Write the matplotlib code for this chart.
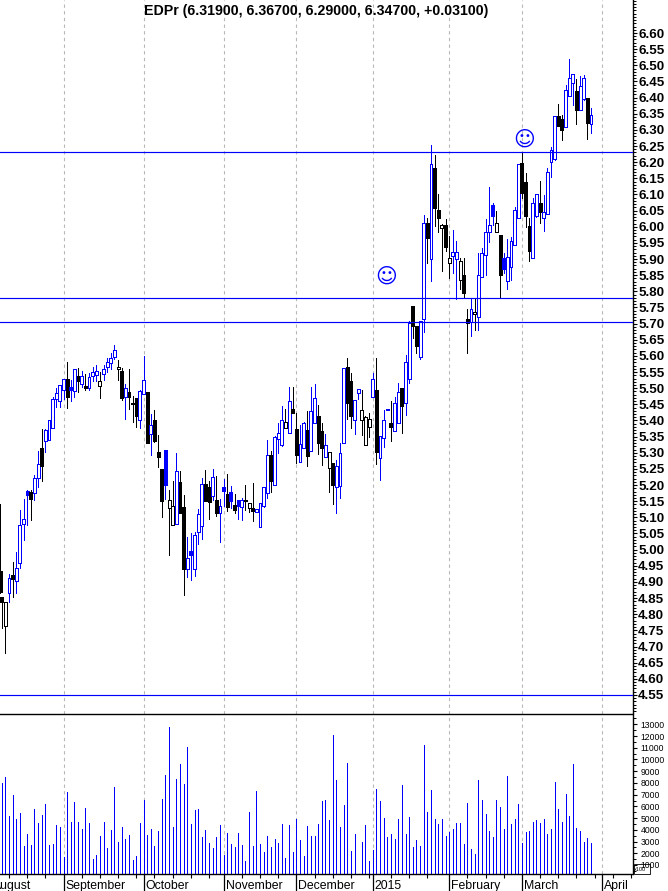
import numpy as np
import matplotlib
matplotlib.use('Agg')
import matplotlib.pyplot as plt
from matplotlib.patches import Rectangle
from matplotlib.ticker import MultipleLocator

plt.rcParams['font.family'] = ['Liberation Sans', 'DejaVu Sans']

# daily bars, first one is cut by the left edge
opens = [4.934, 4.852, 4.762, 4.867, 4.921, 4.904, 4.958, 5.080, 5.181, 5.178,
         5.174, 5.223, 5.315, 5.337, 5.341, 5.378, 5.468, 5.459, 5.494, 5.528,
         5.503, 5.492, 5.538, 5.512, 5.506, 5.501, 5.539, 5.542, 5.508, 5.543,
         5.566, 5.579, 5.598, 5.558, 5.552, 5.474, 5.488, 5.453, 5.471, 5.403,
         5.483, 5.487, 5.359, 5.403, 5.302, 5.249, 5.308, 5.130, 5.075, 5.079,
         5.211, 5.132, 4.939, 4.996, 4.939, 5.054, 5.072, 5.202, 5.193, 5.165,
         5.154, 5.112, 5.194, 5.172, 5.177, 5.138, 5.153, 5.131, 5.151, 5.128,
         5.128, 5.118, 5.069, 5.134, 5.174, 5.293, 5.199, 5.344, 5.323, 5.378,
         5.360, 5.437, 5.373, 5.270, 5.314, 5.369, 5.304, 5.393, 5.413, 5.367,
         5.288, 5.254, 5.268, 5.193, 5.198, 5.329, 5.565, 5.521, 5.403, 5.486,
         5.403, 5.325, 5.379, 5.474, 5.493, 5.283, 5.347, 5.437, 5.391, 5.368,
         5.393, 5.502, 5.454, 5.530, 5.754, 5.693, 5.596, 5.713, 6.011, 5.900,
         6.181, 6.051, 5.995, 6.005, 5.887, 5.909, 5.900, 5.835, 5.850, 5.713,
         5.706, 5.729, 5.722, 5.843, 5.914, 5.985, 6.066, 5.985, 5.973, 5.902,
         5.831, 5.874, 5.942, 6.026, 6.196, 6.140, 6.002, 5.902, 6.032, 6.072,
         6.026, 6.041, 6.199, 6.209, 6.342, 6.335, 6.308, 6.405, 6.444, 6.421,
         6.363, 6.397, 6.400, 6.319]
highs = [5.141, 4.852, 4.837, 4.924, 4.961, 4.993, 5.123, 5.157, 5.185, 5.185,
         5.231, 5.305, 5.373, 5.373, 5.403, 5.474, 5.502, 5.509, 5.530, 5.580,
         5.525, 5.558, 5.561, 5.553, 5.544, 5.546, 5.566, 5.572, 5.551, 5.572,
         5.595, 5.608, 5.634, 5.587, 5.561, 5.513, 5.559, 5.476, 5.471, 5.494,
         5.599, 5.487, 5.420, 5.432, 5.355, 5.249, 5.308, 5.185, 5.212, 5.298,
         5.243, 5.169, 5.040, 5.052, 5.056, 5.125, 5.221, 5.247, 5.214, 5.249,
         5.228, 5.157, 5.219, 5.233, 5.197, 5.172, 5.153, 5.159, 5.200, 5.143,
         5.205, 5.126, 5.143, 5.194, 5.339, 5.305, 5.352, 5.391, 5.445, 5.435,
         5.503, 5.503, 5.422, 5.386, 5.396, 5.429, 5.503, 5.513, 5.448, 5.391,
         5.358, 5.303, 5.268, 5.277, 5.329, 5.561, 5.595, 5.546, 5.462, 5.496,
         5.494, 5.414, 5.424, 5.546, 5.592, 5.353, 5.432, 5.437, 5.460, 5.474,
         5.515, 5.502, 5.603, 5.709, 5.754, 5.693, 5.708, 6.036, 6.026, 6.253,
         6.222, 6.101, 6.010, 6.023, 5.972, 5.990, 5.956, 5.902, 5.902, 5.744,
         5.778, 5.778, 5.918, 5.933, 6.024, 6.124, 6.072, 6.050, 5.973, 5.918,
         5.961, 5.969, 6.062, 6.193, 6.230, 6.165, 6.028, 6.088, 6.100, 6.143,
         6.098, 6.181, 6.246, 6.342, 6.380, 6.346, 6.439, 6.519, 6.472, 6.456,
         6.468, 6.470, 6.400, 6.367]
lows = [4.865, 4.756, 4.681, 4.839, 4.854, 4.867, 4.943, 5.030, 5.076, 5.092,
        5.154, 5.195, 5.214, 5.303, 5.339, 5.378, 5.443, 5.443, 5.465, 5.438,
        5.461, 5.474, 5.489, 5.505, 5.494, 5.494, 5.523, 5.523, 5.470, 5.525,
        5.551, 5.558, 5.589, 5.525, 5.463, 5.405, 5.435, 5.396, 5.379, 5.376,
        5.483, 5.331, 5.294, 5.334, 5.257, 5.102, 5.158, 4.983, 5.075, 5.079,
        5.114, 4.860, 4.916, 4.906, 4.918, 5.016, 5.034, 5.152, 5.095, 5.154,
        5.105, 5.023, 5.135, 5.121, 5.128, 5.114, 5.095, 5.092, 5.123, 5.118,
        5.090, 5.118, 5.069, 5.133, 5.161, 5.179, 5.199, 5.298, 5.321, 5.376,
        5.360, 5.424, 5.269, 5.270, 5.314, 5.259, 5.304, 5.391, 5.296, 5.262,
        5.288, 5.177, 5.141, 5.114, 5.161, 5.329, 5.406, 5.376, 5.358, 5.465,
        5.355, 5.325, 5.350, 5.474, 5.265, 5.217, 5.319, 5.432, 5.337, 5.368,
        5.393, 5.362, 5.417, 5.515, 5.654, 5.608, 5.589, 5.675, 5.887, 5.833,
        6.002, 5.985, 5.864, 5.926, 5.841, 5.856, 5.775, 5.806, 5.783, 5.608,
        5.663, 5.680, 5.680, 5.843, 5.850, 5.954, 6.005, 5.985, 5.778, 5.856,
        5.806, 5.835, 5.942, 6.026, 6.088, 6.000, 5.895, 5.902, 6.031, 6.012,
        5.988, 6.041, 6.155, 6.206, 6.313, 6.268, 6.308, 6.405, 6.377, 6.318,
        6.363, 6.394, 6.273, 6.290]
closes = [4.870, 4.837, 4.837, 4.913, 4.909, 4.942, 5.076, 5.094, 5.169, 5.158,
          5.222, 5.264, 5.260, 5.372, 5.403, 5.468, 5.484, 5.509, 5.530, 5.474,
          5.495, 5.558, 5.522, 5.539, 5.501, 5.534, 5.549, 5.552, 5.521, 5.558,
          5.580, 5.592, 5.617, 5.566, 5.470, 5.502, 5.474, 5.450, 5.414, 5.492,
          5.524, 5.331, 5.385, 5.337, 5.288, 5.152, 5.201, 5.153, 5.135, 5.242,
          5.114, 4.939, 4.973, 4.983, 5.044, 5.109, 5.202, 5.152, 5.146, 5.224,
          5.112, 5.134, 5.183, 5.133, 5.152, 5.124, 5.136, 5.153, 5.153, 5.143,
          5.120, 5.126, 5.143, 5.194, 5.294, 5.214, 5.348, 5.360, 5.403, 5.394,
          5.459, 5.424, 5.294, 5.326, 5.393, 5.291, 5.428, 5.471, 5.331, 5.314,
          5.323, 5.303, 5.201, 5.258, 5.298, 5.561, 5.455, 5.414, 5.462, 5.496,
          5.434, 5.410, 5.406, 5.527, 5.303, 5.353, 5.403, 5.432, 5.380, 5.453,
          5.487, 5.446, 5.580, 5.701, 5.694, 5.632, 5.708, 6.013, 5.966, 6.193,
          6.057, 6.026, 6.005, 5.936, 5.902, 5.921, 5.921, 5.893, 5.796, 5.703,
          5.744, 5.735, 5.851, 5.918, 5.985, 6.004, 6.034, 6.013, 5.850, 5.870,
          5.907, 5.955, 6.053, 6.193, 6.105, 6.034, 5.926, 6.072, 6.100, 6.047,
          6.047, 6.168, 6.237, 6.342, 6.313, 6.301, 6.425, 6.461, 6.472, 6.363,
          6.437, 6.461, 6.320, 6.347]
# b = blue bar, k = black bar
bar_colors = ('kkkbkbbbbk' 'bbkbbbbbbk' 'bbkbkbbbkb' 'bbbkkbkkkb'
              'bkbkkkbkkb' 'kkbbbbbkkb' 'kbbkbkbbkk' 'kbbbbkbbbk'
              'bkkbbkbbkk' 'bkkbbbkkbb' 'kkkbkbbbkb' 'bkbbkkbbkb'
              'kkkkkbbkkk' 'bkbbbbbkkb' 'bbbbkkkbbk' 'bbbbkkbbbk'
              'bbkb')

# x100, no volume on the day of index 81
volumes = [7996, 8508, 5180, 6972, 4925, 5437, 2620, 3645, 2706, 5778,
           4583, 5266, 6204, 2706, 2792, 4413, 4242, 1683, 7228, 4669,
           6375, 4669, 4071, 5863, 4583, 1512, 1853, 3474, 4669, 2450,
           3986, 7655, 2962, 4242, 3218, 3560, 1427, 1768, 4583, 6546,
           3560, 4071, 2620, 3901, 6631, 8679, 12774, 4242, 8338, 9617,
           7911, 11068, 4498, 5693, 5778, 3389, 3986, 2877, 2450, 3389,
           4413, 1853, 3730, 2792, 2536, 3730, 2706, 1341, 5522, 2620,
           7313, 2792, 2109, 3474, 2536, 3218, 2877, 4498, 1597, 4413,
           2109, 4925, 3133, 1768, 4328, 3474, 3474, 4498, 6460, 6546,
           4840, 12092, 8252, 4242, 6119, 9703, 2194, 3645, 0, 2962,
           4413, 1341, 2280, 7485, 6460, 5010, 3389, 3645, 3218, 4925,
           7826, 3645, 5095, 2536, 3133, 2620, 11238, 5522, 7400, 4925,
           4498, 4925, 3474, 3816, 4071, 4583, 4583, 2792, 6261, 2365,
           1939, 8252, 6546, 5351, 3901, 3389, 6546, 5949, 4071, 8594,
           4498, 4925, 6204, 2877, 3816, 3901, 4669, 4840, 4583, 4925,
           3645, 4071, 8082, 5778, 4669, 7058, 5180, 9617, 4157, 3901,
           2962, 3304, 2877]

month_bars = [-20, 0, 22, 44, 64, 85, 106, 126, 148]
month_labels = ['August', 'September', 'October', 'November', 'December',
                '2015', 'February', 'March', 'April']
week_bars = [-15, -10, -5, 5, 10, 15, 20, 25, 30, 35, 40, 49, 54, 59, 69, 74,
             79, 84, 90, 95, 100, 111, 116, 121, 131, 136, 141, 146, 151, 156]
level_prices = [6.23, 5.778, 5.704, 4.549]
smiley_bars = [88.7, 126.5]
smiley_prices = [5.845, 6.27]

price_ticks = np.arange(4.55, 6.601, 0.05)
volume_ticks = np.arange(1000, 13001, 1000)
title = 'EDPr (6.31900, 6.36700, 6.29000, 6.34700, +0.03100)'

BLUE = '#0000ff'
GRID = '#b8b8b8'
W, H = 668, 891
XLIM = (-17.47, 156.4)

fig = plt.figure(figsize=(W / 100, H / 100), dpi=100, facecolor='white')
ax = fig.add_axes([0, (H - 713.5) / H, 632.5 / W, 713.5 / H])
ax_vol = fig.add_axes([0, (H - 874) / H, 632.5 / W, (874 - 713.5) / H])

x = np.arange(-18, 146, dtype=float)
x[0] = -17.45  # the cut off bar sits right on the edge
is_blue = np.array([c == 'b' for c in bar_colors])
colors = np.where(is_blue, BLUE, 'black')
o, h, l, c = map(np.array, (opens, highs, lows, closes))
top = np.maximum(o, c)
bottom = np.minimum(o, c)

for a in (ax, ax_vol):
    for m in month_bars:
        a.axvline(m, color=GRID, lw=0.8, ls=(0, (3, 3)), zorder=0)

# 0.72 pt is one pixel at this dpi
ax.vlines(x, l, h, colors=colors, lw=0.72, zorder=2, antialiased=False)
faces = np.where(c < o, colors, 'white')
ax.bar(x, top - bottom, bottom=bottom, width=0.8, color=faces,
       edgecolor=colors, lw=0.72, zorder=3, antialiased=False)

for level in level_prices:
    ax.axhline(level, color=BLUE, lw=0.85, zorder=4)

for sx, sy in zip(smiley_bars, smiley_prices):
    ax.text(sx, sy, '\u263a', color=BLUE, fontsize=15, ha='center', va='center',
            family='DejaVu Sans', zorder=5)

ax.set_xlim(*XLIM)
ax.set_ylim(6.6 - (713.5 - 33) / 322.9, 6.6 + 33 / 322.9)
ax.set_xticks([])
ax.yaxis.tick_right()
ax.set_yticks(price_ticks, labels=['%.2f' % p for p in price_ticks],
              fontsize=9.6, fontweight='bold')
ax.yaxis.set_minor_locator(MultipleLocator(0.01))
ax.tick_params(axis='y', which='major', length=3, width=0.8, pad=1)
ax.tick_params(axis='y', which='minor', length=1.8, width=0.7)
for side in ('left', 'top', 'bottom'):
    ax.spines[side].set_visible(False)
ax.spines['right'].set_linewidth(1)

ax_vol.vlines(x[1:], 0, volumes, colors=BLUE, lw=0.72, zorder=2, antialiased=False)
ax_vol.yaxis.tick_right()
ax_vol.set_yticks(volume_ticks, labels=['%d' % v for v in volume_ticks],
                  fontsize=6.2)
ax_vol.yaxis.set_minor_locator(MultipleLocator(500))
ax_vol.tick_params(axis='y', which='major', length=3, width=0.8, pad=3)
ax_vol.tick_params(axis='y', which='minor', length=1.8, width=0.7)
ax_vol.set_xticks(month_bars, labels=[])
ax_vol.set_xticks(week_bars, minor=True)
ax_vol.tick_params(axis='x', which='major', length=13, width=0.9)
ax_vol.tick_params(axis='x', which='minor', length=3, width=0.8)
# after set_xticks, which widens the limits to take in every tick
ax_vol.set_xlim(*XLIM)
ax_vol.set_ylim(1000 - 9 * 85.29, 1000 + (865 - 713.5) * 85.29)
ax_vol.spines['left'].set_visible(False)
for side in ('top', 'bottom', 'right'):
    ax_vol.spines[side].set_linewidth(1)

for m, label in zip(month_bars, month_labels):
    ax_vol.annotate(label, (m, 0), xycoords=('data', 'axes fraction'),
                    xytext=(2, -15), textcoords='offset pixels', fontsize=8.8,
                    ha='left', va='baseline', annotation_clip=False)

fig.text(316 / W, 1 - 11 / H, title, fontsize=10.2, fontweight='bold',
         ha='center', va='center')

# multiplier box in the corner
fig.add_artist(Rectangle((634 / W, 1 - 874 / H), 16 / W, 10 / H, fill=False,
                         edgecolor='black', lw=0.6,
                         transform=fig.transFigure))
fig.text(640 / W, 1 - 869.5 / H, 'x100', fontsize=4, ha='center', va='center')

fig.savefig('out.png', dpi=100)
